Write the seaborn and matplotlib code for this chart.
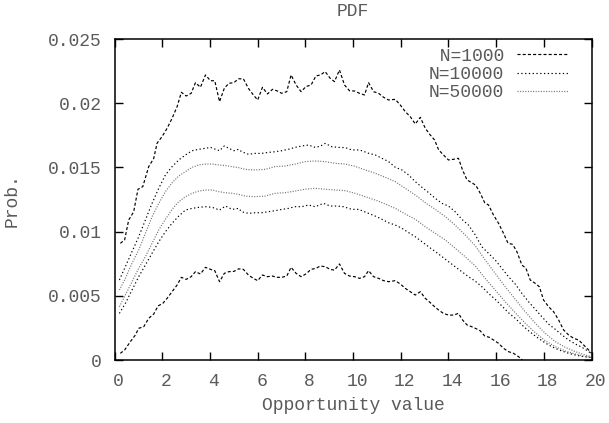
import numpy as np
import matplotlib
matplotlib.use("Agg")
import matplotlib.pyplot as plt
import matplotlib.transforms as mtransforms
import seaborn as sns

# Style
sns.set_style("ticks")
plt.rcParams['font.family'] = ['Liberation Mono', 'DejaVu Sans Mono']

# -----------------------------
# DATA (probabilities in 1e-3)
# -----------------------------

# N=1000 band
x_1000_hi = [0.24, 0.42, 0.59, 0.8, 0.98, 1.18, 1.43, 1.64, 1.78, 1.99, 2.2, 2.41, 2.62, 2.8, 3.0,
             3.21, 3.39, 3.6, 3.81, 4.02, 4.2, 4.4, 4.6, 4.79, 5.0, 5.2, 5.4, 5.61, 5.82, 6.0, 6.2,
             6.41, 6.62, 6.8, 7.01, 7.22, 7.4, 7.61, 7.82, 8.02, 8.24, 8.44, 8.63, 8.83, 9.04, 9.22,
             9.43, 9.64, 9.85, 10.06, 10.27, 10.48, 10.65, 10.86, 11.07, 11.28, 11.49, 11.77, 11.98,
             12.19, 12.4, 12.61, 12.82, 13.03, 13.24, 13.42, 13.59, 13.79, 14.0, 14.21, 14.42, 14.59,
             14.78, 14.98, 15.15, 15.33, 15.52, 15.68, 15.89, 16.1, 16.31, 16.5, 16.69, 16.87, 17.08,
             17.25, 17.43, 17.64, 17.81, 17.99, 18.2, 18.41, 18.62, 18.83, 19.04, 19.25, 19.46,
             19.67, 19.88, 20.0]
p_1000_hi = [9.09, 9.35, 10.9, 11.55, 13.3, 13.5, 15.06, 15.7, 16.88, 17.4, 18.04, 18.82, 19.73, 20.85,
             20.56, 20.77, 21.6, 21.24, 22.2, 21.75, 21.75, 20.12, 21.16, 21.55, 21.6, 21.9, 21.9,
             21.16, 20.64, 20.25, 21.24, 20.72, 21.08, 20.97, 20.77, 20.9, 22.2, 21.42, 20.9, 21.29,
             21.42, 22.12, 22.2, 22.46, 21.94, 21.68, 22.59, 21.42, 20.97, 20.95, 20.77, 20.64, 21.6,
             20.9, 20.77, 20.46, 20.25, 20.3, 19.86, 19.34, 18.95, 18.38, 18.9, 18.04, 17.52, 17.13,
             16.36, 15.97, 15.58, 15.63, 15.71, 14.8, 14.02, 13.81, 13.6, 13.0, 12.25, 12.07, 11.29,
             10.65, 9.86, 9.09, 9.01, 8.44, 7.4, 7.14, 6.23, 5.97, 5.71, 4.67, 4.15, 3.76, 3.12,
             2.34, 1.95, 1.69, 1.56, 1.17, 0.78, 0.52]

x_1000_lo = [0.24, 0.42, 0.66, 0.87, 1.01, 1.22, 1.43, 1.64, 1.82, 2.02, 2.2, 2.41, 2.62, 2.8, 3.0,
             3.21, 3.39, 3.6, 3.81, 4.02, 4.2, 4.4, 4.6, 4.79, 5.0, 5.2, 5.4, 5.61, 5.82, 6.0, 6.2,
             6.41, 6.62, 6.8, 7.01, 7.22, 7.4, 7.61, 7.82, 8.02, 8.24, 8.44, 8.63, 8.83, 9.04, 9.22,
             9.43, 9.64, 9.85, 10.06, 10.27, 10.48, 10.65, 10.86, 11.07, 11.28, 11.49, 11.77, 11.98,
             12.19, 12.4, 12.61, 12.82, 13.03, 13.24, 13.42, 13.59, 13.79, 14.0, 14.21, 14.42, 14.59,
             14.78, 14.98, 15.15, 15.33, 15.52, 15.71, 15.89, 16.1, 16.31, 16.52, 16.73, 16.94, 17.1]
p_1000_lo = [0.52, 0.78, 1.43, 1.95, 2.47, 2.59, 3.25, 3.58, 4.21, 4.41, 4.8, 5.32, 5.84, 6.44, 6.28,
             6.49, 6.88, 6.7, 7.22, 7.06, 6.96, 6.1, 6.75, 6.88, 6.9, 7.1, 7.06, 6.62, 6.36, 6.18,
             6.62, 6.49, 6.54, 6.44, 6.44, 6.54, 7.22, 6.75, 6.49, 6.7, 7.06, 7.14, 7.32, 7.27, 7.06,
             7.0, 7.48, 6.75, 6.54, 6.49, 6.36, 6.49, 6.96, 6.49, 6.36, 6.18, 6.1, 6.18, 5.92, 5.58,
             5.32, 5.06, 5.32, 4.8, 4.46, 4.15, 3.89, 3.63, 3.5, 3.5, 3.63, 3.12, 2.73, 2.59, 2.45,
             2.28, 1.87, 1.77, 1.56, 1.3, 0.91, 0.65, 0.52, 0.26, 0.0]

# N=10000 band
x_10000_hi = [0.2, 0.45, 0.73, 1.01, 1.29, 1.57, 1.85, 2.13, 2.41, 2.69, 2.97, 3.25, 3.53, 3.81, 4.02,
              4.23, 4.4, 4.6, 4.79, 5.0, 5.2, 5.33, 5.61, 5.89, 6.17, 6.45, 6.73, 7.01, 7.29, 7.57,
              7.85, 8.13, 8.41, 8.62, 8.83, 9.11, 9.39, 9.67, 9.95, 10.23, 10.37, 10.65, 10.93, 11.21,
              11.49, 11.77, 12.05, 12.33, 12.61, 12.89, 13.17, 13.45, 13.73, 14.0, 14.28, 14.56,
              14.84, 15.12, 15.4, 15.68, 15.96, 16.24, 16.52, 16.8, 17.08, 17.36, 17.64, 17.92, 18.2,
              18.48, 18.76, 19.04, 19.32, 19.6, 19.88, 20.0]
p_10000_hi = [6.23, 7.27, 8.44, 9.6, 10.9, 12.2, 13.37, 14.41, 15.06, 15.58, 15.97, 16.3, 16.41, 16.49,
              16.56, 16.41, 16.3, 16.67, 16.49, 16.3, 16.41, 16.22, 16.02, 16.09, 16.09, 16.17, 16.22,
              16.3, 16.41, 16.56, 16.67, 16.74, 16.56, 16.65, 16.87, 16.61, 16.56, 16.54, 16.36,
              16.36, 16.3, 16.1, 15.97, 15.71, 15.45, 15.01, 14.8, 14.41, 13.89, 13.45, 13.03, 12.59,
              12.2, 11.99, 11.55, 10.96, 10.51, 9.75, 8.82, 8.31, 7.79, 7.14, 6.49, 5.92, 5.19, 4.54,
              3.95, 3.37, 2.8, 2.39, 1.95, 1.56, 1.25, 0.99, 0.65, 0.5]

x_10000_lo = [0.2, 0.45, 0.73, 1.01, 1.29, 1.57, 1.85, 2.13, 2.41, 2.69, 2.97, 3.25, 3.53, 3.81, 4.09,
              4.4, 4.65, 4.93, 5.2, 5.33, 5.61, 5.89, 6.17, 6.45, 6.73, 7.01, 7.29, 7.57, 7.85, 8.13,
              8.41, 8.76, 9.04, 9.32, 9.6, 9.95, 10.23, 10.37, 10.65, 10.93, 11.21, 11.49, 11.77,
              12.05, 12.33, 12.61, 12.89, 13.17, 13.45, 13.73, 14.0, 14.28, 14.56, 14.84, 15.12,
              15.4, 15.68, 15.96, 16.24, 16.52, 16.8, 17.08, 17.36, 17.64, 17.92, 18.2, 18.48, 18.76,
              19.04, 19.32, 19.6, 19.95]
p_10000_lo = [3.63, 4.41, 5.45, 6.49, 7.4, 8.31, 9.21, 9.99, 10.65, 11.21, 11.68, 11.81, 11.89, 11.94,
              11.89, 11.68, 11.99, 11.73, 11.81, 11.55, 11.42, 11.47, 11.47, 11.55, 11.63, 11.73,
              11.81, 11.94, 11.94, 12.07, 11.94, 12.2, 11.99, 11.99, 11.94, 11.73, 11.73, 11.63,
              11.42, 11.21, 10.96, 10.69, 10.51, 10.26, 9.92, 9.6, 9.21, 8.82, 8.44, 8.05, 7.66, 7.27,
              6.88, 6.49, 6.15, 5.71, 5.19, 4.73, 4.21, 3.68, 3.25, 2.73, 2.28, 1.87, 1.5, 1.17, 0.91,
              0.7, 0.52, 0.39, 0.28, 0.2]

# N=50000 band
x_50000 = [0.2, 0.45, 0.73, 1.01, 1.29, 1.57, 1.85, 2.13, 2.41, 2.69, 2.97, 3.25, 3.53, 3.81, 4.09,
           4.37, 4.65, 4.93, 5.2, 5.47, 5.89, 6.31, 6.73, 7.15, 7.57, 7.99, 8.41, 8.83, 9.25, 9.67,
           10.09, 10.51, 10.93, 11.35, 11.77, 12.19, 12.61, 13.03, 13.45, 13.87, 14.28, 14.7, 15.12,
           15.54, 15.96, 16.38, 16.8, 17.22, 17.64, 18.06, 18.48, 18.9, 19.32, 19.74, 20.0]
p_50000_hi = [5.45, 6.36, 7.53, 8.57, 9.86, 11.16, 12.2, 13.11, 13.81, 14.33, 14.67, 15.01, 15.19, 15.26,
              15.26, 15.19, 15.14, 15.06, 14.98, 14.85, 14.8, 14.85, 15.06, 15.11, 15.26, 15.45, 15.5,
              15.45, 15.32, 15.26, 15.08, 14.8, 14.54, 14.23, 13.89, 13.37, 12.85, 12.25, 11.73,
              11.16, 10.51, 9.74, 8.9, 7.79, 6.75, 5.71, 4.73, 3.76, 2.86, 2.08, 1.43, 0.99, 0.65,
              0.39, 0.26]
p_50000_lo = [4.15, 5.06, 6.1, 7.14, 8.05, 9.09, 10.12, 10.96, 11.73, 12.33, 12.72, 12.98, 13.16, 13.24,
              13.24, 13.11, 13.03, 12.98, 12.9, 12.77, 12.72, 12.77, 12.98, 13.03, 13.16, 13.3, 13.37,
              13.3, 13.24, 13.19, 12.98, 12.72, 12.46, 12.15, 11.81, 11.37, 10.96, 10.38, 9.86, 9.35,
              8.7, 8.05, 7.33, 6.36, 5.45, 4.54, 3.68, 2.86, 2.13, 1.5, 1.04, 0.7, 0.47, 0.28, 0.2]

x_ticks = [0, 2, 4, 6, 8, 10, 12, 14, 16, 18, 20]
y_ticks = [0, 0.005, 0.01, 0.015, 0.02, 0.025]
y_tick_labels = ["0", "0.005", "0.01", "0.015", "0.02", "0.025"]

# -----------------------------
# PLOT
# -----------------------------

text_col = "#5a5a5a"
fig = plt.figure(figsize=(6.09, 4.23), dpi=100)
ax = fig.add_axes([0.1882, 0.1489, 0.7831, 0.7589])

dash_1000 = (0, (2.6, 1.8))
dot_10000 = (0, (1.1, 2.1))
dot_50000 = (0, (0.9, 1.3))
lw = 0.85

curves = [
    (x_1000_hi, p_1000_hi, "N=1000", "black", dash_1000),
    (x_10000_hi, p_10000_hi, "N=10000", "black", dot_10000),
    (x_50000, p_50000_hi, "N=50000", "#707070", dot_50000),
    (x_1000_lo, p_1000_lo, None, "black", dash_1000),
    (x_10000_lo, p_10000_lo, None, "black", dot_10000),
    (x_50000, p_50000_lo, None, "#707070", dot_50000),
]
for xs, ps, lab, col, ls in curves:
    sns.lineplot(x=xs, y=np.array(ps) / 1000, ax=ax, color=col, linestyle=ls, lw=lw,
                 label=lab, legend=False, estimator=None, sort=False)

ax.set_xlim(0, 20)
ax.set_ylim(0, 0.025)
ax.set_xticks(x_ticks)
ax.set_yticks(y_ticks)
ax.set_yticklabels(y_tick_labels)
ax.tick_params(direction="in", top=True, right=True, length=6, width=1,
               labelsize=13, labelcolor=text_col, colors="black")
ax.tick_params(axis="x", pad=9)
ax.tick_params(axis="y", pad=9)
for s in ax.spines.values():
    s.set_color("black")
    s.set_linewidth(1.1)

# gnuplot puts the x labels a few pixels right of the ticks
shift = mtransforms.ScaledTranslation(4 / 100, 0, fig.dpi_scale_trans)
for lab in ax.get_xticklabels():
    lab.set_transform(lab.get_transform() + shift)

# legend: text right-aligned by padding (monospace)
handles, labels = ax.get_legend_handles_labels()
labels = [l.rjust(7) for l in labels]
leg = ax.legend(handles, labels, loc="upper right", bbox_to_anchor=(0.9507, 0.9735),
                markerfirst=False, frameon=False, borderpad=0, borderaxespad=0,
                handlelength=2.8, handletextpad=0.75, labelspacing=0.08, fontsize=13)
for t in leg.get_texts():
    t.set_color(text_col)

fig.text(353 / 609, 1 - 12 / 423, "PDF", ha="center", va="center", fontsize=13, color=text_col)
fig.text(12 / 609, 1 - 200 / 423, "Prob.", ha="center", va="center", rotation=90,
         fontsize=13, color=text_col)
fig.text(353 / 609, 1 - 405 / 423, "Opportunity value", ha="center", va="center",
         fontsize=13, color=text_col)

plt.savefig("out.png", dpi=100)
